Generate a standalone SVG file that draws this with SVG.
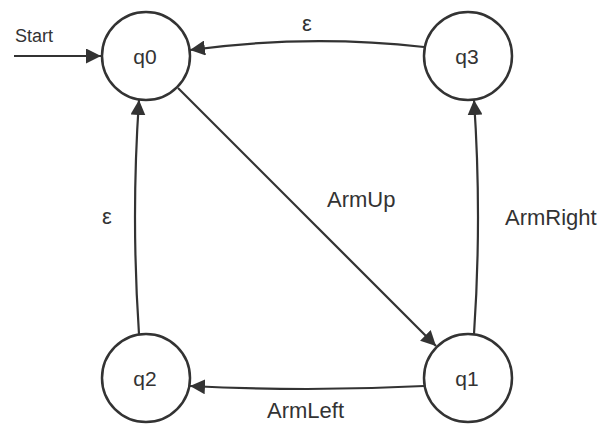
<svg xmlns="http://www.w3.org/2000/svg" width="603" height="424" viewBox="0 0 603 424">
<style>
.node circle{fill:#fff;stroke:#333;stroke-width:2.5}
.node text{font-family:"Liberation Sans",Arial,sans-serif;font-size:21px;fill:#333;text-anchor:middle}
.edge{fill:none;stroke:#333;stroke-width:2.2}
.lbl{font-family:"Liberation Sans",Arial,sans-serif;font-size:22px;fill:#333}
</style>
<defs>
<marker id="ah" viewBox="0 0 10 10" refX="10" refY="5" markerWidth="15" markerHeight="15" markerUnits="userSpaceOnUse" orient="auto">
<path d="M0,0 L10,5 L0,10 Z" fill="#333"/>
</marker>
</defs>
<rect width="603" height="424" fill="#fff"/>
<g id="connectors">
<path class="edge" d="M14,56 L101,56" marker-end="url(#ah)"/>
<path class="edge" d="M424,47 Q307,34 190,50" marker-end="url(#ah)"/>
<path class="edge" d="M139,334 Q131,217 139,100" marker-end="url(#ah)"/>
<path class="edge" d="M474,334 Q482,217 474,100" marker-end="url(#ah)"/>
<path class="edge" d="M424,386 Q307,392 190,386" marker-end="url(#ah)"/>
<path class="edge" d="M178,88 L436,346" marker-end="url(#ah)"/>
<text class="lbl" x="15" y="42" style="font-size:18px">Start</text>
<text class="lbl" x="302" y="31">ε</text>
<text class="lbl" x="102" y="224">ε</text>
<text class="lbl" x="327" y="207">ArmUp</text>
<text class="lbl" x="505" y="225">ArmRight</text>
<text class="lbl" x="267" y="418">ArmLeft</text>
</g>
<g id="q0" class="node"><circle cx="146" cy="56" r="44"/><text x="145" y="64">q0</text></g>
<g id="q3" class="node"><circle cx="468" cy="56" r="44"/><text x="467" y="64">q3</text></g>
<g id="q2" class="node"><circle cx="146" cy="378" r="44"/><text x="145" y="386">q2</text></g>
<g id="q1" class="node"><circle cx="468" cy="378" r="44"/><text x="467" y="386">q1</text></g>
</svg>
